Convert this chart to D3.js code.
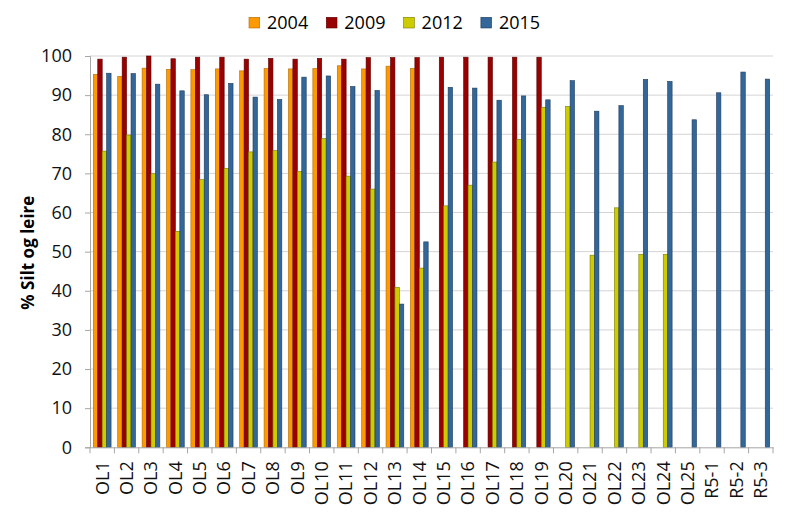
<!DOCTYPE html>
<html><head><meta charset="utf-8">
<script src="https://cdn.jsdelivr.net/npm/d3@7"></script>
<style>body{margin:0;background:#fff}svg{display:block}text{font-family:"Open Sans",sans-serif}</style>
</head><body><svg id="c" width="785" height="514"></svg>
<script>
const categories = ["OL1","OL2","OL3","OL4","OL5","OL6","OL7","OL8","OL9","OL10","OL11","OL12","OL13","OL14","OL15","OL16","OL17","OL18","OL19","OL20","OL21","OL22","OL23","OL24","OL25","R5-1","R5-2","R5-3"];
const seriesNames = ["2004","2009","2012","2015"];
const v2004 = [95.3,94.8,96.9,96.6,96.5,96.7,96.2,96.8,96.7,96.8,97.5,96.7,97.4,96.8,null,null,null,null,null,null,null,null,null,null,null,null,null,null];
const v2009 = [99.2,99.7,100,99.3,99.7,99.7,99.2,99.4,99.2,99.4,99.2,99.6,99.6,99.6,99.7,99.7,99.7,99.7,99.7,null,null,null,null,null,null,null,null,null];
const v2012 = [75.7,79.8,69.9,55.2,68.4,71.3,75.5,75.8,70.5,78.9,69.3,66.0,40.9,45.8,61.7,67.0,72.9,78.7,86.9,87.1,49.1,61.2,49.3,49.3,null,null,null,null];
const v2015 = [95.6,95.5,92.8,91.1,90.1,93.0,89.5,88.9,94.6,94.9,92.2,91.2,36.6,52.5,92.0,91.8,88.7,89.8,88.8,93.7,85.9,87.3,94.0,93.5,83.7,90.6,95.9,94.1];
const yTicks = [0,10,20,30,40,50,60,70,80,90,100];
const yTitle = "% Silt og leire";
const colors = ["#FF9900","#990000","#CCCC00","#336699"];
const strokes = ["#b36b00","#5c0000","#7a7a00","#1f3d5c"];

const seriesData = [v2004,v2009,v2012,v2015];
const svg = d3.select("#c");
const L=90,R=773,T=56,B=447.3;
const x = d3.scaleBand().domain(categories).range([L,R]);
const bw = x.bandwidth();
const x1 = d3.scaleBand().domain(seriesNames).range([bw*0.75/5.5, bw - bw*0.75/5.5]);
const y = d3.scaleLinear().domain([0,100]).range([B,T]);

// gridlines
svg.append("g").selectAll("line").data(yTicks.filter(d=>d>0)).join("line")
  .attr("x1",L).attr("x2",R).attr("y1",d=>y(d)).attr("y2",d=>y(d))
  .attr("stroke","#d4d4d4").attr("stroke-width",1);

// y axis
const ya = svg.append("g").attr("transform",`translate(${L},0)`)
  .call(d3.axisLeft(y).tickValues(yTicks).tickSize(5).tickPadding(13));
ya.select(".domain").attr("stroke","#a6a6a6");
ya.selectAll(".tick line").attr("stroke","#a6a6a6");
ya.selectAll("text").attr("font-size","18px").attr("fill","#111");

// bars
seriesNames.forEach((s,i)=>{
  const data = categories.map((c,j)=>({c,v:seriesData[i][j]})).filter(d=>d.v!=null);
  svg.append("g").selectAll("rect").data(data).join("rect")
    .attr("x",d=>x(d.c)+x1(s)).attr("width",x1.bandwidth())
    .attr("y",d=>y(d.v)).attr("height",d=>B-y(d.v))
    .attr("fill",colors[i]).attr("stroke",strokes[i]).attr("stroke-width",0.6);
});

// x axis
const xa = svg.append("g").attr("transform",`translate(0,${B})`)
  .call(d3.axisBottom(x).tickSize(0).tickPadding(0));
xa.select(".domain").attr("stroke","#a6a6a6");
xa.selectAll(".tick text").attr("transform","rotate(-90)").attr("text-anchor","end")
  .attr("x",-14).attr("y",0).attr("dy","0.35em").attr("font-size","18px").attr("fill","#111");
svg.append("g").selectAll("line").data(d3.range(categories.length+1)).join("line")
  .attr("x1",i=>L+i*bw).attr("x2",i=>L+i*bw).attr("y1",B).attr("y2",B+6)
  .attr("stroke","#a6a6a6");

// y title
svg.append("text").attr("transform",`translate(34,${(T+B)/2+1}) rotate(-90)`)
  .attr("text-anchor","middle").attr("font-size","17px").attr("font-weight","bold").text(yTitle);

// legend
const lg = svg.append("g").selectAll("g").data(seriesNames).join("g")
  .attr("transform",(d,i)=>`translate(${249+i*77.3},17.3)`);
lg.append("rect").attr("width",10.7).attr("height",10.7).attr("fill",(d,i)=>colors[i]).attr("stroke",(d,i)=>strokes[i]).attr("stroke-width",0.6);
lg.append("text").attr("x",18).attr("y",5.5).attr("dy","0.36em").attr("font-size","18px").text(d=>d);
</script></body></html>
